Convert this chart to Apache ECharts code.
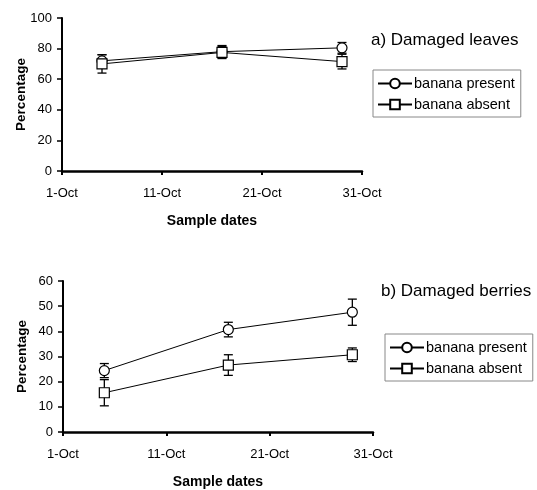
<!DOCTYPE html>
<html>
<head>
<meta charset="utf-8">
<script src="https://cdn.jsdelivr.net/npm/echarts@6/dist/echarts.min.js"></script>
<style>html,body{margin:0;padding:0;background:#fff;}#c{width:537px;height:490px;}</style>
</head>
<body>
<div id="c"></div>
<script>
// Sample dates (day of October)
const sampleDays = [5, 17, 29];
const xTickLabels = ['1-Oct', '11-Oct', '21-Oct', '31-Oct'];
const seriesNames = ['banana present', 'banana absent'];

// a) Damaged leaves (%), with error bar half-widths
const leavesPresent = [72, 78, 80.5];
const leavesPresentErr = [4, 4, 3.5];
const leavesAbsent = [70, 77.5, 71.5];
const leavesAbsentErr = [6, 4, 4.8];

// b) Damaged berries (%), with error bar half-widths
const berriesPresent = [24.4, 40.7, 47.6];
const berriesPresentErr = [2.8, 2.9, 5.2];
const berriesAbsent = [15.6, 26.6, 30.7];
const berriesAbsentErr = [5.2, 4.1, 2.7];

const FONT = '"Liberation Sans", Arial, sans-serif';

function pts(vals) { return vals.map((v, i) => [sampleDays[i] - 1, v]); }
function errs(vals, e) { return vals.map((v, i) => [sampleDays[i] - 1, v - e[i], v + e[i]]); }

function renderErr(params, api) {
  const x = api.value(0);
  const lo = api.coord([x, api.value(1)]);
  const hi = api.coord([x, api.value(2)]);
  const hw = 4.5;
  const st = { stroke: '#000', lineWidth: 1.3 };
  return {
    type: 'group',
    children: [
      { type: 'line', shape: { x1: lo[0], y1: lo[1], x2: hi[0], y2: hi[1] }, style: st },
      { type: 'line', shape: { x1: lo[0] - hw, y1: lo[1], x2: lo[0] + hw, y2: lo[1] }, style: st },
      { type: 'line', shape: { x1: hi[0] - hw, y1: hi[1], x2: hi[0] + hw, y2: hi[1] }, style: st }
    ]
  };
}

function xAxis(gi) {
  return {
    gridIndex: gi, type: 'value', min: 0, max: 30, interval: 10,
    name: 'Sample dates', nameLocation: 'middle', nameGap: 43, nameMoveOverlap: false,
    nameTextStyle: { fontFamily: FONT, fontWeight: 'bold', fontSize: 14, color: '#000' },
    axisLine: { show: true, onZero: false, lineStyle: { color: '#000', width: 2.5 } },
    axisTick: { show: true, inside: false, length: 4, lineStyle: { color: '#000', width: 2 } },
    axisLabel: { show: true, margin: 16, fontFamily: FONT, fontSize: 13, color: '#000',
      formatter: v => xTickLabels[Math.round(v / 10)] },
    splitLine: { show: false }
  };
}
function yAxis(gi, max, interval) {
  return {
    gridIndex: gi, type: 'value', min: 0, max: max, interval: interval,
    name: 'Percentage', nameLocation: 'middle', nameGap: 34, nameRotate: 90, nameMoveOverlap: false,
    nameTextStyle: { fontFamily: FONT, fontWeight: 'bold', fontSize: 13.5, color: '#000' },
    axisLine: { show: true, onZero: false, lineStyle: { color: '#000', width: 2 } },
    axisTick: { show: true, inside: false, length: 5, lineStyle: { color: '#000', width: 1.5 } },
    axisLabel: { show: true, margin: 10, fontFamily: FONT, fontSize: 13, color: '#000' },
    splitLine: { show: false }
  };
}
function lineSeries(name, gi, data, symbol) {
  return {
    name: name, type: 'line', xAxisIndex: gi, yAxisIndex: gi, data: data,
    symbol: symbol, symbolSize: 10, z: 3,
    lineStyle: { color: '#000', width: 1 },
    itemStyle: { color: '#fff', borderColor: '#000', borderWidth: 1.2 },
    emphasis: { disabled: true }, animation: false
  };
}
function errSeries(gi, data) {
  return { type: 'custom', xAxisIndex: gi, yAxisIndex: gi, data: data, renderItem: renderErr, z: 2, silent: true, animation: false };
}
function legend(left, top) {
  return {
    data: seriesNames, orient: 'vertical', left: left, top: top,
    padding: [6, 6, 5, 4], itemGap: 6, itemWidth: 34, itemHeight: 12,
    borderColor: '#888', borderWidth: 1, backgroundColor: '#fff', borderRadius: 0,
    textStyle: { fontFamily: FONT, fontSize: 14.5, color: '#000', padding: [0, 0, 0, -3] },
    selectedMode: false
  };
}

const chart = echarts.init(document.getElementById('c'), null, { renderer: 'canvas' });
chart.setOption({
  animation: false,
  backgroundColor: '#fff',
  title: [
    { text: 'a) Damaged leaves', left: 371, top: 32, padding: 0,
      textStyle: { fontFamily: FONT, fontWeight: 'normal', fontSize: 17, color: '#000' } },
    { text: 'b) Damaged berries', left: 381, top: 283, padding: 0,
      textStyle: { fontFamily: FONT, fontWeight: 'normal', fontSize: 17, color: '#000' } }
  ],
  legend: [legend(373, 70), legend(385, 334)],
  grid: [
    { left: 62, top: 18, width: 300, height: 153, containLabel: false },
    { left: 63, top: 281, width: 310, height: 154, containLabel: false }
  ],
  xAxis: [xAxis(0), xAxis(1)],
  yAxis: [yAxis(0, 100, 20), yAxis(1, 60, 10)],
  series: [
    lineSeries(seriesNames[0], 0, pts(leavesPresent), 'circle'),
    lineSeries(seriesNames[1], 0, pts(leavesAbsent), 'rect'),
    errSeries(0, errs(leavesPresent, leavesPresentErr)),
    errSeries(0, errs(leavesAbsent, leavesAbsentErr)),
    lineSeries(seriesNames[0], 1, pts(berriesPresent), 'circle'),
    lineSeries(seriesNames[1], 1, pts(berriesAbsent), 'rect'),
    errSeries(1, errs(berriesPresent, berriesPresentErr)),
    errSeries(1, errs(berriesAbsent, berriesAbsentErr))
  ]
});
</script>
</body>
</html>
